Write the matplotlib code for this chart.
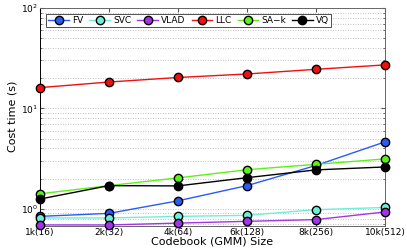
import matplotlib
matplotlib.use("Agg")
import matplotlib.pyplot as plt
from matplotlib.ticker import LogLocator, NullFormatter

categories = ["1k(16)", "2k(32)", "4k(64)", "6k(128)", "8k(256)", "10k(512)"]
fv = [0.84, 0.90, 1.20, 1.70, 2.70, 4.64]
svc = [0.81, 0.81, 0.84, 0.86, 0.98, 1.03]
vlad = [0.69, 0.69, 0.72, 0.75, 0.78, 0.93]
llc = [16.1, 18.3, 20.3, 22.0, 24.5, 27.1]
sak = [1.41, 1.70, 2.03, 2.45, 2.77, 3.14]
vq = [1.25, 1.70, 1.69, 2.04, 2.44, 2.61]

series = [("FV", fv, "#2a5cf5"), ("SVC", svc, "#6ef0d8"), ("VLAD", vlad, "#a234e8"),
          ("LLC", llc, "#f01010"), ("SA\u2212k", sak, "#5ef01a"), ("VQ", vq, "#000000")]

fig = plt.figure(figsize=(4.07, 2.49), dpi=100)
ax = fig.add_axes([0.098, 0.094, 0.848, 0.874])
x = list(range(len(categories)))
for name, vals, col in series:
    ax.plot(x, vals, color=col, lw=1.0, marker="o", ms=6, mfc=col, mec="black", mew=1.0,
            label=name, clip_on=False, zorder=3)

ax.set_yscale("log")
ax.set_ylim(0.68, 100)
ax.set_xlim(0, 5)
ax.set_xticks(x)
ax.set_xticklabels(categories, fontsize=6.5)
ax.yaxis.set_minor_locator(LogLocator(base=10, subs=range(2, 10)))
ax.yaxis.set_minor_formatter(NullFormatter())
ax.tick_params(axis="both", which="both", direction="in", labelsize=6.5, top=True, right=True,
               length=3, pad=1.5, color="#555555")
ax.tick_params(axis="y", which="minor", length=1.5)
ax.grid(True, axis="y", which="both", ls=(0, (1, 2)), color="#aaaaaa", lw=0.6)
ax.set_xlabel("Codebook (GMM) Size", fontsize=8, labelpad=0)
ax.set_ylabel("Cost time (s)", fontsize=8, labelpad=2)
leg = ax.legend(ncol=6, loc="upper left", bbox_to_anchor=(0.005, 0.995), fontsize=6.5,
                handlelength=2.3, handletextpad=0.3, columnspacing=0.7, borderpad=0.25,
                fancybox=False, edgecolor="#333333", framealpha=1)
leg.get_frame().set_linewidth(0.6)
for s in ax.spines.values():
    s.set_linewidth(0.7)
    s.set_color("#666666")
ax.spines["left"].set_color("black")
fig.savefig("out.png", dpi=100)
